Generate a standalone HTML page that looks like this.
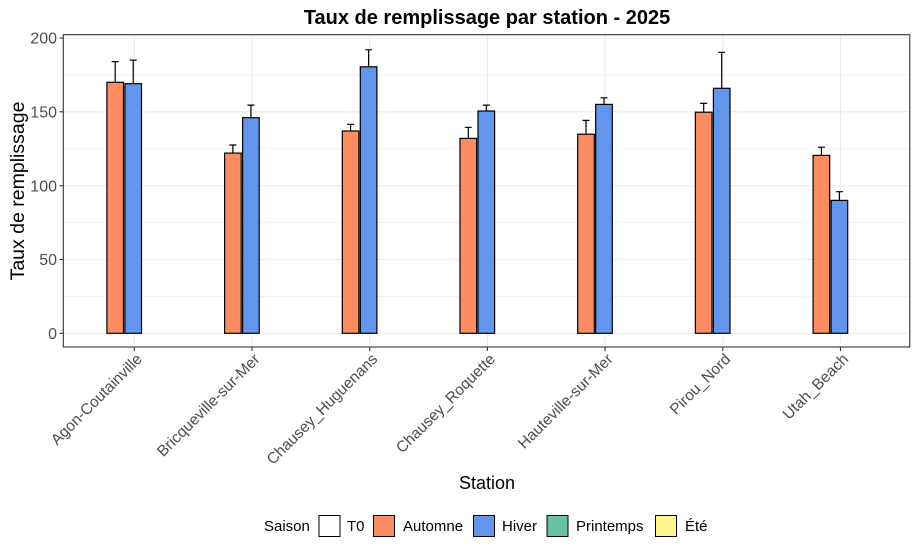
<!DOCTYPE html>
<html><head><meta charset="utf-8"><style>
body{margin:0;background:#fff;}
svg{display:block;font-family:"Liberation Sans",Arial,sans-serif;}
</style></head><body>
<svg width="918" height="552" xmlns="http://www.w3.org/2000/svg">
<rect width="918" height="552" fill="#fff"/>
<g stroke="#ebebeb" stroke-width="0.6">
<line x1="63" x2="910" y1="296.4" y2="296.4"/><line x1="63" x2="910" y1="222.6" y2="222.6"/><line x1="63" x2="910" y1="148.8" y2="148.8"/><line x1="63" x2="910" y1="74.9" y2="74.9"/>
</g>
<g stroke="#ebebeb" stroke-width="1.1">
<line x1="63" x2="910" y1="333.3" y2="333.3"/><line x1="63" x2="910" y1="259.5" y2="259.5"/><line x1="63" x2="910" y1="185.7" y2="185.7"/><line x1="63" x2="910" y1="111.8" y2="111.8"/><line x1="63" x2="910" y1="38" y2="38"/>
<line x1="134.3" x2="134.3" y1="35" y2="347"/><line x1="252" x2="252" y1="35" y2="347"/><line x1="369.7" x2="369.7" y1="35" y2="347"/><line x1="487.4" x2="487.4" y1="35" y2="347"/><line x1="605.1" x2="605.1" y1="35" y2="347"/><line x1="722.8" x2="722.8" y1="35" y2="347"/><line x1="840.5" x2="840.5" y1="35" y2="347"/>
</g>
<g stroke="#000" stroke-width="1.2">
<path d="M115.2 61.6V82.3M111.7 61.6h7M133.2 60.1V83.7M129.7 60.1h7
M232.9 145V153.1M229.4 145h7M250.9 105.1V117.7M247.4 105.1h7
M350.6 124.3V131M347.1 124.3h7M368.6 49.8V66.8M365.1 49.8h7
M468.3 127.3V138.4M464.8 127.3h7M486.3 105.1V111M482.8 105.1h7
M586 120.4V134.2M582.5 120.4h7M604 97.8V104.4M600.5 97.8h7
M703.7 103.4V112.2M700.2 103.4h7M721.7 52.3V88.3M718.2 52.3h7
M821.4 147.2V155.4M817.9 147.2h7M839.4 191.7V200.4M835.9 191.7h7" fill="none"/>
<g fill="#FC8D62">
<rect x="106.9" y="82.3" width="16.6" height="251"/>
<rect x="224.6" y="153.1" width="16.6" height="180.2"/>
<rect x="342.3" y="131" width="16.6" height="202.3"/>
<rect x="460" y="138.4" width="16.6" height="194.9"/>
<rect x="577.7" y="134.2" width="16.6" height="199.1"/>
<rect x="695.4" y="112.2" width="16.6" height="221.1"/>
<rect x="813.1" y="155.4" width="16.6" height="177.9"/>
</g>
<g fill="#6495ED">
<rect x="124.9" y="83.7" width="16.6" height="249.6"/>
<rect x="242.6" y="117.7" width="16.6" height="215.6"/>
<rect x="360.3" y="66.8" width="16.6" height="266.5"/>
<rect x="478" y="111" width="16.6" height="222.3"/>
<rect x="595.7" y="104.4" width="16.6" height="228.9"/>
<rect x="713.4" y="88.3" width="16.6" height="245"/>
<rect x="831.1" y="200.4" width="16.6" height="132.9"/>
</g>
</g>
<rect x="63.3" y="34.7" width="846.5" height="312.3" fill="none" stroke="#333" stroke-width="1.1"/>
<g fill="#4d4d4d" font-size="16" text-anchor="end">
<text x="57" y="339">0</text><text x="57" y="265.2">50</text><text x="57" y="191.4">100</text><text x="57" y="117.5">150</text><text x="57" y="43.7">200</text>
</g>
<g stroke="#333" stroke-width="1.1">
<line x1="59.5" x2="63.3" y1="333.3" y2="333.3"/><line x1="59.5" x2="63.3" y1="259.5" y2="259.5"/><line x1="59.5" x2="63.3" y1="185.7" y2="185.7"/><line x1="59.5" x2="63.3" y1="111.8" y2="111.8"/><line x1="59.5" x2="63.3" y1="38" y2="38"/>
<line x1="134.3" x2="134.3" y1="347" y2="351"/><line x1="252" x2="252" y1="347" y2="351"/><line x1="369.7" x2="369.7" y1="347" y2="351"/><line x1="487.4" x2="487.4" y1="347" y2="351"/><line x1="605.1" x2="605.1" y1="347" y2="351"/><line x1="722.8" x2="722.8" y1="347" y2="351"/><line x1="840.5" x2="840.5" y1="347" y2="351"/>
</g>
<g fill="#4d4d4d" font-size="15.5" text-anchor="end">
<text transform="translate(143,360) rotate(-45)">Agon-Coutainville</text>
<text transform="translate(260.7,360) rotate(-45)">Bricqueville-sur-Mer</text>
<text transform="translate(378.4,360) rotate(-45)">Chausey_Huguenans</text>
<text transform="translate(496.1,360) rotate(-45)">Chausey_Roquette</text>
<text transform="translate(613.8,360) rotate(-45)">Hauteville-sur-Mer</text>
<text transform="translate(731.5,360) rotate(-45)">Pirou_Nord</text>
<text transform="translate(849.2,360) rotate(-45)">Utah_Beach</text>
</g>
<text x="487" y="24" font-size="20" font-weight="bold" text-anchor="middle">Taux de remplissage par station  - 2025</text>
<text x="487" y="489" font-size="18" text-anchor="middle">Station</text>
<text transform="translate(24,191) rotate(-90)" font-size="19.5" text-anchor="middle">Taux de remplissage</text>
<g font-size="15">
<text x="264" y="531">Saison</text>
<rect x="319" y="515.5" width="21" height="21" fill="#fff" stroke="#000"/><text x="347" y="531">T0</text>
<rect x="373.5" y="515.5" width="21" height="21" fill="#FC8D62" stroke="#000"/><text x="403" y="531">Automne</text>
<rect x="473.5" y="515.5" width="21" height="21" fill="#6495ED" stroke="#000"/><text x="502" y="531">Hiver</text>
<rect x="547" y="515.5" width="21" height="21" fill="#66C2A5" stroke="#000"/><text x="576" y="531">Printemps</text>
<rect x="655.5" y="515.5" width="21" height="21" fill="#FFF68F" stroke="#000"/><text x="685" y="531">Été</text>
</g>
</svg>
</body></html>
